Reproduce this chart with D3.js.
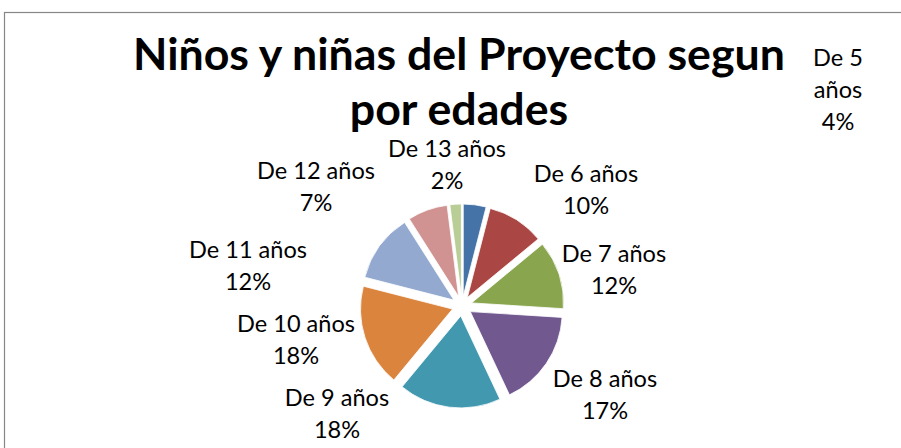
<!DOCTYPE html>
<html>
<head>
<meta charset="utf-8">
<script src="https://cdn.jsdelivr.net/npm/d3@7"></script>
<style>
  html, body { margin: 0; padding: 0; background: #fff; }
  svg { display: block; }
</style>
</head>
<body>
<div id="chart"></div>
<script>
// datos del gráfico
const categorias = ["De 5 años", "De 6 años", "De 7 años", "De 8 años", "De 9 años",
                    "De 10 años", "De 11 años", "De 12 años", "De 13 años"];
const porcentajes = [4, 10, 12, 17, 18, 18, 12, 7, 2];
const colores = ["#4572A7", "#AA4643", "#89A54E", "#71588F", "#4198AF",
                 "#DB843D", "#93A9CF", "#D19392", "#B9CD96"];
const tituloLineas = ["Niños y niñas del Proyecto segun", "por edades"];

// posiciones de etiquetas (centro, línea base de la primera línea) - layout
const etiquetaPos = [
  [838, 66], [586, 182], [614, 262], [605, 387], [337, 406],
  [296, 332], [248, 258], [316, 179], [447, 157]
];
// la etiqueta de 5 años va partida en tres líneas
const etiquetaLineas = (i) => i === 0
  ? ["De 5", "años", porcentajes[i] + "%"]
  : [categorias[i], porcentajes[i] + "%"];

const width = 901, height = 448;
const fuente = "Lato, 'Open Sans', sans-serif";

const svg = d3.select("#chart").append("svg")
  .attr("width", width).attr("height", height);

// marco del área del gráfico
svg.append("rect")
  .attr("x", 4.5).attr("y", 12.5)
  .attr("width", 1200).attr("height", 1000)
  .attr("fill", "#fff")
  .attr("stroke", "#868686").attr("stroke-width", 1.2);

// ajustar tamaño de fuente según el ancho medido
function ajustar(texto, peso, anchoObjetivo) {
  const t = svg.append("text").style("font-family", fuente)
    .style("font-weight", peso).style("font-size", "100px").text(texto);
  const w = t.node().getComputedTextLength();
  t.remove();
  return 100 * anchoObjetivo / w;
}

const tamTitulo = ajustar(tituloLineas[0], 700, 652);
const tamEtiqueta = ajustar("De 12 años", 400, 118);

// título
svg.append("g").selectAll("text")
  .data(tituloLineas).enter().append("text")
  .attr("x", 459)
  .attr("y", (d, i) => 70 + i * 55)
  .attr("text-anchor", "middle")
  .style("font-family", fuente)
  .style("font-weight", 700)
  .style("font-size", tamTitulo + "px")
  .style("fill", "#000")
  .text(d => d);

// --- tarta explotada ---
const cx = 462, cy = 306, radio = 92, explode = 10;

const pie = d3.pie().sort(null).value(d => d)
  .startAngle(0).endAngle(2 * Math.PI);
const arcos = pie(porcentajes);
const arc = d3.arc().innerRadius(0).outerRadius(radio);

const gPie = svg.append("g").attr("transform", `translate(${cx},${cy})`);
gPie.selectAll("path")
  .data(arcos).enter().append("path")
  .attr("transform", d => {
    const a = (d.startAngle + d.endAngle) / 2;
    return `translate(${explode * Math.sin(a)},${-explode * Math.cos(a)})`;
  })
  .attr("d", arc)
  .attr("fill", (d, i) => colores[i])
  .attr("stroke", "#fff")
  .attr("stroke-width", 0.8);

// etiquetas de datos
const gEtiq = svg.append("g");
categorias.forEach((c, i) => {
  const t = gEtiq.append("text")
    .attr("text-anchor", "middle")
    .style("font-family", fuente)
    .style("font-size", tamEtiqueta + "px")
    .style("fill", "#000");
  etiquetaLineas(i).forEach((linea, j) => {
    t.append("tspan")
      .attr("x", etiquetaPos[i][0])
      .attr("y", etiquetaPos[i][1] + j * 32)
      .text(linea);
  });
});
</script>
</body>
</html>
